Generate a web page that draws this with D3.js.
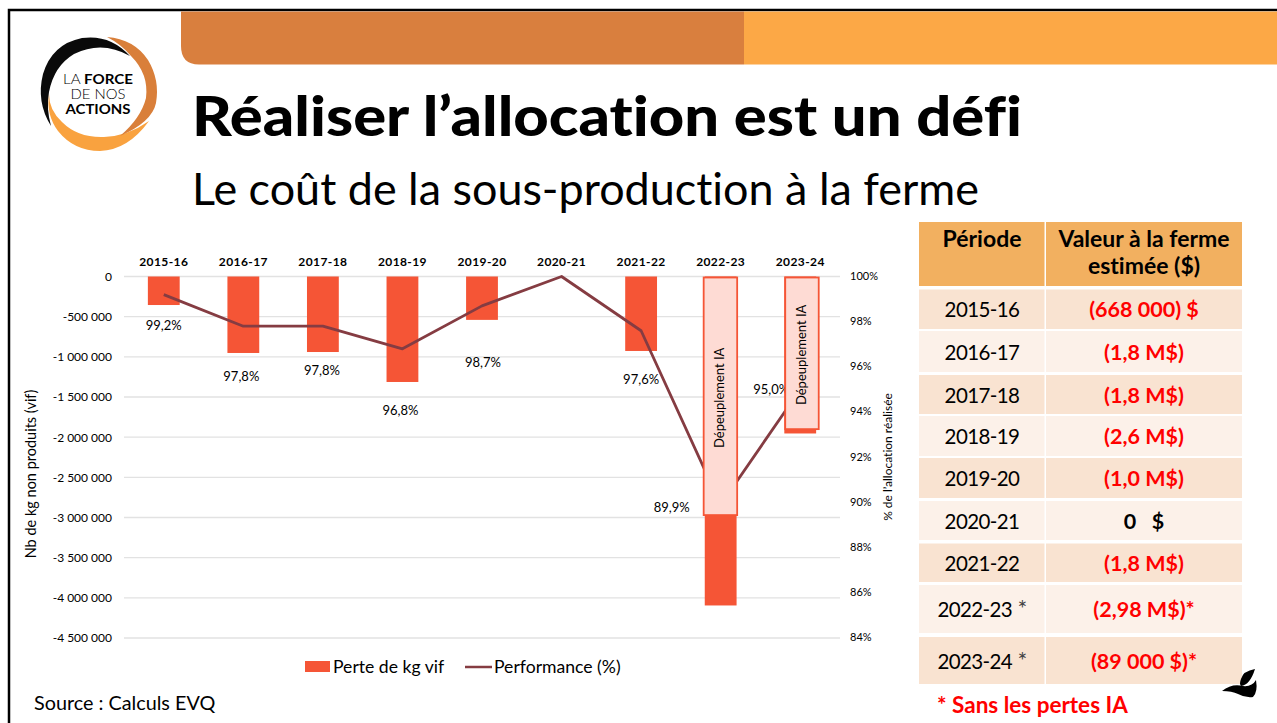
<!DOCTYPE html>
<html>
<head>
<meta charset="utf-8">
<script src="https://cdn.jsdelivr.net/npm/d3@7"></script>
<style>
  html, body { margin: 0; padding: 0; background: #fff; overflow: hidden; }
  text { font-family: Lato, "Open Sans", sans-serif; fill: #000; font-variant-ligatures: none; }
</style>
</head>
<body>
<svg id="slide" width="1277" height="723"></svg>
<script>
const periods = ['2015-16', '2016-17', '2017-18', '2018-19', '2019-20', '2020-21', '2021-22', '2022-23', '2023-24'];
const lossKg = [-355000, -952000, -940000, -1313000, -540000, 0, -927000, -4095000, -1954000];
const performance = [99.2, 97.8, 97.8, 96.8, 98.7, 100, 97.6, 89.9, 95.0];
const perfLabels = ['99,2%', '97,8%', '97,8%', '96,8%', '98,7%', '', '97,6%', '89,9%', '95,0%'];
const depopKg = [0, 0, 0, 0, 0, 0, 0, -2970000, -1900000];
const leftTicks = [0, -500000, -1000000, -1500000, -2000000, -2500000, -3000000, -3500000, -4000000, -4500000];
const rightTicks = [100, 98, 96, 94, 92, 90, 88, 86, 84];

const tablePeriods = ['2015-16', '2016-17', '2017-18', '2018-19', '2019-20', '2020-21', '2021-22', '2022-23', '2023-24'];
const tableStars = ['', '', '', '', '', '', '', ' *', ' *'];
const tableValues = ['(668 000) $', '(1,8 M$)', '(1,8 M$)', '(2,6 M$)', '(1,0 M$)', '0   $', '(1,8 M$)', '(2,98 M$)*', '(89 000 $)*'];

const svg = d3.select('#slide');
const fr = d3.formatLocale({ decimal: ',', thousands: ' ', grouping: [3], currency: ['', ''], minus: '-' });
const fmt = fr.format(',d');

// slide frame and top banner
svg.append('path').attr('d', 'M9 723V10H1277').attr('fill', 'none').attr('stroke', '#000').attr('stroke-width', 2.5);
svg.append('rect').attr('x', 744).attr('y', 11.5).attr('width', 533).attr('height', 53).attr('fill', '#fca846');
svg.append('path').attr('d', 'M181 11.5H744V64.5H199Q181 64.5 181 46Z').attr('fill', '#d97f3e');

// logo
const logo = svg.append('g');
logo.append('path').attr('fill', '#f9a23f')
  .attr('d', 'M49 94Q46 115 58 131Q74 151 100 151Q128 150 149 121Q128 136 104 137Q78 138 62 122Q49 110 49 94Z');
logo.append('path').attr('fill', '#d97f3a')
  .attr('d', 'M107 37Q134 39 148 60Q160 80 156 103Q152 122 120 136Q141 118 146 98Q149 74 131 56Q121 44 107 37Z');
logo.append('path').attr('fill', '#0a0a0a')
  .attr('d', 'M130 56Q110 34 82 38Q52 44 43 74Q36 102 51 126Q46 108 49 92Q54 66 74 54Q102 40 130 56Z');
const logoText = logo.append('g').attr('text-anchor', 'middle').style('font-size', '14px');
const l1 = logoText.append('text').attr('x', 98).attr('y', 84).attr('textLength', 70).attr('lengthAdjust', 'spacingAndGlyphs');
l1.append('tspan').text('LA ').attr('font-weight', 300);
l1.append('tspan').text('FORCE').attr('font-weight', 700);
logoText.append('text').attr('x', 98).attr('y', 98.5).attr('font-weight', 300)
  .attr('textLength', 55).attr('lengthAdjust', 'spacingAndGlyphs').text('DE NOS');
logoText.append('text').attr('x', 98).attr('y', 113.5).attr('font-weight', 700)
  .attr('textLength', 65).attr('lengthAdjust', 'spacingAndGlyphs').text('ACTIONS');

// headings
svg.append('text').attr('x', 192).attr('y', 136).attr('font-weight', 900)
  .attr('textLength', 830).attr('lengthAdjust', 'spacingAndGlyphs')
  .style('font-size', '55px').text('Réaliser l’allocation est un défi');
svg.append('text').attr('x', 192).attr('y', 205).attr('textLength', 787).attr('lengthAdjust', 'spacingAndGlyphs')
  .style('font-size', '45px').text('Le coût de la sous-production à la ferme');

// chart
const plot = { left: 124, right: 840, top: 276.5, bottom: 638 };
const x = d3.scaleBand().domain(periods).range([plot.left, plot.right]).paddingInner(0.6).paddingOuter(0.3);
const y = d3.scaleLinear().domain([0, -4500000]).range([plot.top, plot.bottom]);
const yPerf = d3.scaleLinear().domain([84, 100]).range([plot.bottom, plot.top]);
const cx = d => x(d) + x.bandwidth() / 2;

svg.append('g').selectAll('line').data(leftTicks).enter().append('line')
  .attr('x1', plot.left).attr('x2', plot.right)
  .attr('y1', d => y(d)).attr('y2', d => y(d))
  .attr('stroke', '#e2e2e2').attr('stroke-width', 1.3);

const axisLeft = svg.append('g').attr('transform', `translate(${plot.left - 12},0)`)
  .call(d3.axisLeft(y).tickValues(leftTicks).tickFormat(fmt).tickSize(0).tickPadding(0));
const axisRight = svg.append('g').attr('transform', `translate(${plot.right + 10},0)`)
  .call(d3.axisRight(yPerf).tickValues(rightTicks).tickFormat(d => d + '%').tickSize(0).tickPadding(0));
const axisTop = svg.append('g').attr('transform', `translate(0,${plot.top - 11})`)
  .call(d3.axisTop(x).tickSize(0).tickPadding(0));
[axisLeft, axisRight, axisTop].forEach(a => {
  a.select('.domain').remove();
  a.selectAll('text').style('font-family', 'Lato, sans-serif').style('font-size', '12px').attr('fill', '#000');
});
axisRight.selectAll('text').style('font-size', '11px').attr('dy', '0.25em');
axisTop.selectAll('text').attr('font-weight', 700).style('font-size', '12px').style('letter-spacing', '0.4px');

svg.append('g').selectAll('rect').data(periods).enter().append('rect')
  .attr('x', d => x(d))
  .attr('y', y(0))
  .attr('width', x.bandwidth())
  .attr('height', (d, i) => y(lossKg[i]) - y(0))
  .attr('fill', '#f55536');

const line = d3.line().x(d => cx(d)).y((d, i) => yPerf(performance[i]));
svg.append('path').datum(periods).attr('d', line)
  .attr('fill', 'none').attr('stroke', '#853c42').attr('stroke-width', 2.8).attr('stroke-linejoin', 'round');

// labels sit away from the line, by hand as on the slide
const labelShift = [[0, 31], [-2, 50], [-1, 44], [-2, 62], [1, 57], [0, 0], [0, 49], [-49, 3], [-29, 0]];
svg.append('g').selectAll('text').data(periods).enter().append('text')
  .attr('x', (d, i) => cx(d) + labelShift[i][0])
  .attr('y', (d, i) => yPerf(performance[i]) + labelShift[i][1])
  .attr('dy', '0.35em').attr('text-anchor', 'middle').style('font-size', '13px')
  .text((d, i) => perfLabels[i]);

// "Dépeuplement IA" callouts
const boxShift = [0, 0, 0, 0, 0, 0, 0, -0.5, 1.5];
const boxes = periods.filter((d, i) => depopKg[i] < 0);
const boxG = svg.append('g').selectAll('g').data(boxes).enter().append('g');
boxG.append('rect')
  .attr('x', d => cx(d) - 16.5 + boxShift[periods.indexOf(d)])
  .attr('y', y(0) + 1)
  .attr('width', 33.5)
  .attr('height', d => y(depopKg[periods.indexOf(d)]) - y(0) - 1)
  .attr('fill', '#fedbd4').attr('stroke', '#f55536').attr('stroke-width', 1.8);
boxG.append('text')
  .attr('transform', d => `translate(${cx(d) + boxShift[periods.indexOf(d)] + 4},${(y(0) + y(depopKg[periods.indexOf(d)])) / 2 + 2}) rotate(-90)`)
  .attr('text-anchor', 'middle').style('font-size', '13px').text('Dépeuplement IA');

// axis titles
svg.append('text').attr('transform', 'translate(36,474) rotate(-90)').attr('text-anchor', 'middle')
  .style('font-size', '14.5px').text('Nb de kg non produits (vif)');
svg.append('text').attr('transform', 'translate(892,457) rotate(-90)').attr('text-anchor', 'middle')
  .style('font-size', '12px').text('% de l’allocation réalisée');

// legend
svg.append('rect').attr('x', 305).attr('y', 661).attr('width', 25).attr('height', 11).attr('fill', '#f55536');
svg.append('text').attr('x', 333).attr('y', 673).style('font-size', '17.6px').text('Perte de kg vif');
svg.append('line').attr('x1', 465).attr('x2', 492).attr('y1', 667).attr('y2', 667).attr('stroke', '#853c42').attr('stroke-width', 2.5);
svg.append('text').attr('x', 494).attr('y', 673).style('font-size', '17.6px').text('Performance (%)');

svg.append('text').attr('x', 34).attr('y', 710).style('font-size', '19.8px').text('Source : Calculs EVQ');

// table on the right
const col = { left: 919, mid: 1045, right: 1242 };
const rowEdges = [[289.5, 329], [331, 372], [375, 414], [416, 456], [458, 498], [501, 540], [543.5, 582], [585, 633], [637, 684]];
const rowBaseOffset = 8;
const table = svg.append('g');
table.append('rect').attr('x', col.left).attr('y', 222).attr('width', col.mid - col.left - 0.5).attr('height', 64).attr('fill', '#f2b060');
table.append('rect').attr('x', col.mid + 1).attr('y', 222).attr('width', col.right - col.mid - 1).attr('height', 64).attr('fill', '#f2b060');
const headStyle = s => s.attr('text-anchor', 'middle').attr('font-weight', 700).style('font-size', '23px');
table.append('text').attr('x', 982).attr('y', 247).call(headStyle).text('Période');
table.append('text').attr('x', 1144).attr('y', 247).call(headStyle).text('Valeur à la ferme');
table.append('text').attr('x', 1144).attr('y', 274).call(headStyle).text('estimée ($)');

const rows = table.selectAll('g.row').data(tablePeriods).enter().append('g').attr('class', 'row');
rows.append('rect').attr('x', col.left).attr('width', col.mid - col.left - 0.5)
  .attr('y', (d, i) => rowEdges[i][0]).attr('height', (d, i) => rowEdges[i][1] - rowEdges[i][0])
  .attr('fill', (d, i) => i % 2 ? '#fcf1e9' : '#f9e3d1');
rows.append('rect').attr('x', col.mid + 1).attr('width', col.right - col.mid - 1)
  .attr('y', (d, i) => rowEdges[i][0]).attr('height', (d, i) => rowEdges[i][1] - rowEdges[i][0])
  .attr('fill', (d, i) => i % 2 ? '#fcf1e9' : '#f9e3d1');
const rowMid = i => (rowEdges[i][0] + rowEdges[i][1]) / 2 + rowBaseOffset;
const periodText = rows.append('text').attr('x', 982).attr('y', (d, i) => rowMid(i)).attr('text-anchor', 'middle')
  .style('font-size', '20.5px').style('letter-spacing', '-0.6px');
periodText.append('tspan').text(d => d);
periodText.append('tspan').attr('fill', '#444').style('font-size', '23px').text((d, i) => tableStars[i]);
rows.append('text').attr('x', 1144).attr('y', (d, i) => rowMid(i)).attr('text-anchor', 'middle')
  .attr('font-weight', 700).style('font-size', '21.5px').style('white-space', 'pre')
  .style('fill', (d, i) => tableValues[i].startsWith('(') ? '#ff0000' : '#000')
  .text((d, i) => tableValues[i]);

svg.append('text').attr('x', 937).attr('y', 713).attr('font-weight', 700)
  .style('font-size', '22.5px').style('fill', '#ff0000').text('* Sans les pertes IA');

// small leaf mark, bottom right
svg.append('path').attr('fill', '#000')
  .attr('d', 'M1255 669Q1243 671 1241 679Q1239 684 1241 686Q1250 685 1255 669Z');
svg.append('path').attr('fill', '#000')
  .attr('d', 'M1222 691Q1232 683 1243 686Q1252 687 1256 680Q1258 692 1253 697Q1245 698 1238 694Q1232 691 1222 691Z');
</script>
</body>
</html>
